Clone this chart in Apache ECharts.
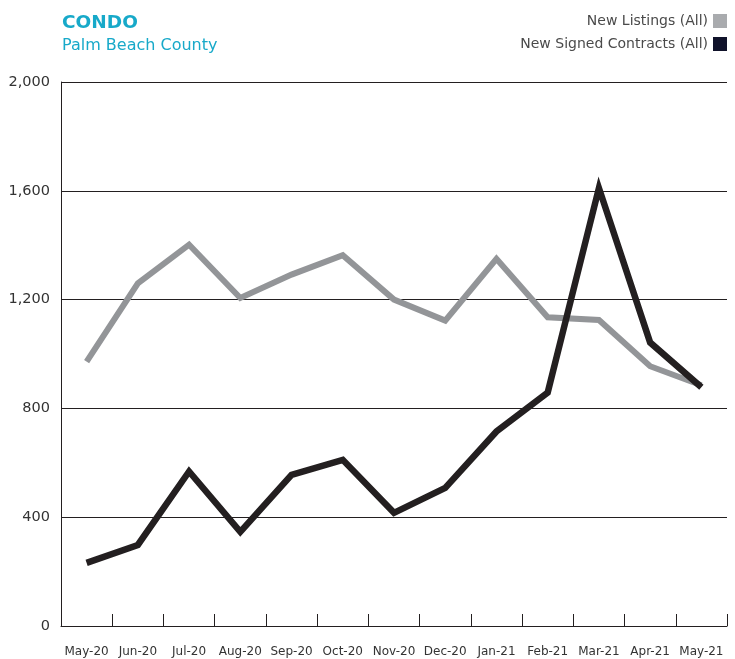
<!DOCTYPE html>
<html><head><meta charset="utf-8">
<script src="https://cdn.jsdelivr.net/npm/echarts@6/dist/echarts.min.js"></script>
<style>html,body{margin:0;padding:0;background:#fff}#c{width:735px;height:659px}</style>
</head><body><div id="c"></div>
<script>
const months = ['May-20','Jun-20','Jul-20','Aug-20','Sep-20','Oct-20','Nov-20','Dec-20','Jan-21','Feb-21','Mar-21','Apr-21','May-21'];
const newListings = [972, 1260, 1402, 1206, 1292, 1363, 1200, 1123, 1350, 1135, 1125, 955, 885];
const newContracts = [232, 298, 568, 346, 556, 611, 416, 508, 715, 858, 1610, 1042, 878];
const yTicks = [0, 400, 800, 1200, 1600, 2000];

const chart = echarts.init(document.getElementById('c'), null, {renderer:'canvas'});
const FONT = '"DejaVu Sans", sans-serif';
chart.setOption({
  animation:false,
  backgroundColor:'#fff',
  title:{
    text:'CONDO', subtext:'Palm Beach County', left:57, top:9, itemGap:5,
    textStyle:{fontFamily:FONT, fontSize:18.5, fontWeight:'bold', color:'#17a9c9'},
    subtextStyle:{fontFamily:FONT, fontSize:16, color:'#17a9c9'}
  },
  legend:{
    orient:'vertical', right:8, top:14, align:'right', itemGap:9, padding:0,
    itemWidth:14, itemHeight:14, icon:'rect',
    textStyle:{fontFamily:FONT, fontSize:14, color:'#4a4a4a'},
    data:[{name:'New Listings (All)', itemStyle:{color:'#a9abae'}},
          {name:'New Signed Contracts (All)', itemStyle:{color:'#10122a'}}]
  },
  grid:{left:61, right:8, top:82, bottom:33},
  xAxis:{
    type:'category', data:months, boundaryGap:true,
    axisLine:{lineStyle:{color:'#231f20', width:1}},
    axisTick:{show:true, inside:true, length:12, alignWithLabel:false, lineStyle:{color:'#231f20'}},
    axisLabel:{interval:0, margin:20, fontFamily:FONT, fontSize:12, color:'#333'}
  },
  yAxis:{
    type:'value', min:yTicks[0], max:yTicks[yTicks.length-1], interval:yTicks[1]-yTicks[0],
    axisLine:{show:true, lineStyle:{color:'#231f20', width:1}},
    axisTick:{show:false},
    axisLabel:{margin:11, fontFamily:FONT, fontSize:14.5, color:'#333',
      formatter:v=>v.toString().replace(/\B(?=(\d{3})+(?!\d))/g, ',')},
    splitLine:{show:true, lineStyle:{color:'#231f20', width:1}}
  },
  series:[
    {name:'New Listings (All)', type:'line', data:newListings, symbol:'none',
     lineStyle:{color:'#939598', width:6, join:'miter'}, itemStyle:{color:'#a9abae'}, z:2},
    {name:'New Signed Contracts (All)', type:'line', data:newContracts, symbol:'none',
     lineStyle:{color:'#231f20', width:6.5, join:'miter'}, itemStyle:{color:'#10122a'}, z:3}
  ]
});
</script></body></html>
